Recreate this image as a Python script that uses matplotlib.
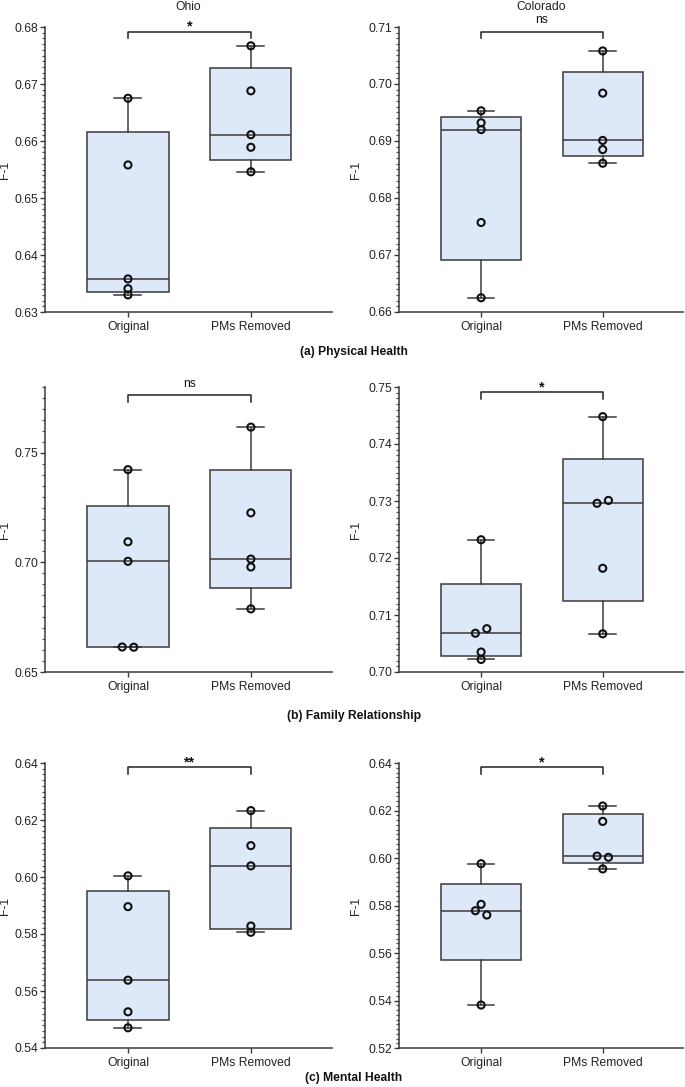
import numpy as np
import matplotlib
matplotlib.use("Agg")
import matplotlib.pyplot as plt
from matplotlib.ticker import MultipleLocator, FormatStrFormatter
import matplotlib.transforms as mtrans

plt.rcParams['font.family'] = ['Liberation Sans', 'DejaVu Sans']

# categories
groups = ["Original", "PMs Removed"]
states = ["Ohio", "Colorado"]
captions = ["(a) Physical Health", "(b) Family Relationship", "(c) Mental Health"]

# F-1 values (5 runs each)
phys_ohio_orig = [0.6675, 0.6558, 0.6358, 0.6341, 0.6330]
phys_ohio_pms = [0.6767, 0.6688, 0.6611, 0.6589, 0.6546]
phys_col_orig = [0.6953, 0.6932, 0.6920, 0.6757, 0.6625]
phys_col_pms = [0.7058, 0.6984, 0.6901, 0.6885, 0.6861]

fam_ohio_orig = [0.7423, 0.7094, 0.7005, 0.6614, 0.6613]
fam_ohio_pms = [0.7617, 0.7226, 0.7015, 0.6979, 0.6788]
fam_col_orig = [0.7232, 0.7076, 0.7068, 0.7035, 0.7022]
fam_col_pms = [0.7448, 0.7301, 0.7296, 0.7182, 0.7067]

ment_ohio_orig = [0.6004, 0.5896, 0.5638, 0.5527, 0.5471]
ment_ohio_pms = [0.6233, 0.6110, 0.6039, 0.5828, 0.5806]
ment_col_orig = [0.5976, 0.5805, 0.5778, 0.5760, 0.5381]
ment_col_pms = [0.6219, 0.6154, 0.6008, 0.6003, 0.5954]

# significance marks
phys_sig = ["*", "ns"]
fam_sig = ["ns", "*"]
ment_sig = ["**", "*"]

# y axis ranges / ticks (ymin, ymax, major, minor)
phys_axes = [(0.63, 0.68, 0.01, 0.001), (0.66, 0.71, 0.01, 0.001)]
fam_axes = [(0.65, 0.78, 0.05, 0.005), (0.70, 0.75, 0.01, 0.001)]
ment_axes = [(0.54, 0.64, 0.02, 0.002), (0.52, 0.64, 0.02, 0.002)]

# --- layout / style only below ---
# swarm slots so overlapping dots sit side by side
jitter = {
    (1, 0, 0): [0, 0, 0, -1, 1],
    (1, 1, 0): [0, 1, -1, 0, 0],
    (1, 1, 1): [0, 1, -1, 0, 0],
    (2, 1, 0): [0, 0, -1, 1, 0],
    (2, 1, 1): [0, 0, -1, 1, 0],
}
bracket_y = [[0.984, 0.984], [0.972, 0.981], [0.986, 0.986]]
sig_off = {"*": 0.5, "**": 0.5, "ns": 6.0}

FACE = "#dde8f8"
EDGE = "#3a3a3a"
FS = 8.7

rows = [
    (phys_ohio_orig, phys_ohio_pms, phys_col_orig, phys_col_pms, phys_sig, phys_axes),
    (fam_ohio_orig, fam_ohio_pms, fam_col_orig, fam_col_pms, fam_sig, fam_axes),
    (ment_ohio_orig, ment_ohio_pms, ment_col_orig, ment_col_pms, ment_sig, ment_axes),
]

W, H = 685, 1087
fig = plt.figure(figsize=(W / 100, H / 100), dpi=100)

col_left = [45, 399]
col_width = [287, 284]
row_top = [27, 387, 763]
ax_h = 285

for r, (o1, p1, o2, p2, sig, yax) in enumerate(rows):
    sets = [(o1, p1), (o2, p2)]
    for c in range(2):
        ax = fig.add_axes([col_left[c] / W, 1 - (row_top[r] + ax_h) / H,
                           col_width[c] / W, ax_h / H])
        data = sets[c]
        stats = []
        for vals in data:
            q1, med, q3 = np.percentile(vals, [25, 50, 75], method='weibull')
            stats.append(dict(med=med, q1=q1, q3=q3, whislo=min(vals),
                              whishi=max(vals), fliers=[]))
        ax.bxp(stats, positions=[0, 1], widths=0.66, capwidths=0.22,
               patch_artist=True, showfliers=False, manage_ticks=False,
               boxprops=dict(facecolor=FACE, edgecolor=EDGE, linewidth=1.1),
               medianprops=dict(color=EDGE, linewidth=1.1),
               whiskerprops=dict(color=EDGE, linewidth=1.1),
               capprops=dict(color=EDGE, linewidth=1.1))
        for g, vals in enumerate(data):
            jit = jitter.get((r, c, g), [0] * len(vals))
            xs = [g + j * 0.047 for j in jit]
            ax.scatter(xs, vals, s=26, facecolors='none', edgecolors='#111111',
                       linewidths=1.5, zorder=3)

        ymin, ymax, maj, mnr = yax[c]
        ax.set_ylim(ymin, ymax)
        ax.set_xlim(-0.675, 1.66)
        ax.yaxis.set_major_locator(MultipleLocator(maj))
        ax.yaxis.set_minor_locator(MultipleLocator(mnr))
        ax.yaxis.set_major_formatter(FormatStrFormatter('%.2f'))
        ax.set_xticks([0, 1])
        ax.set_xticklabels(groups)

        for s in ['top', 'right']:
            ax.spines[s].set_visible(False)
        for s in ['left', 'bottom']:
            ax.spines[s].set_color(EDGE)
            ax.spines[s].set_linewidth(1.1)
        ax.tick_params(axis='y', which='major', length=3.6, width=1.0, pad=1.2,
                       labelsize=FS, color=EDGE, labelcolor='#222222')
        ax.tick_params(axis='y', which='minor', left=True, length=2.2, width=0.9,
                       color='#555555')
        ax.tick_params(axis='x', which='major', length=3.6, width=1.0, pad=3,
                       labelsize=FS, color=EDGE, labelcolor='#222222')

        ax.set_ylabel("F-1", fontsize=FS, color='#222222')
        ax.yaxis.set_label_coords(-0.12 if c == 0 else -0.13, 0.5)

        # significance bracket
        tr = mtrans.blended_transform_factory(ax.transData, ax.transAxes)
        by = bracket_y[r][c]
        ax.plot([0, 0, 1, 1], [by - 0.024, by, by, by - 0.024], color='#222222',
                lw=1.1, transform=tr, clip_on=False)
        star = sig[c] != "ns"
        ax.annotate(sig[c], xy=(0.5, by), xycoords=tr, xytext=(0, sig_off[sig[c]]),
                    textcoords='offset points', ha='center', va='baseline',
                    fontsize=FS + (1.5 if star else 0),
                    fontweight='bold' if star else 'normal', color='#111111')

        if r == 0:
            ax.set_title(states[c], fontsize=FS, pad=12, color='#222222')

cap_y = [352, 716, 1078]
for r in range(3):
    fig.text(354 / W, 1 - cap_y[r] / H, captions[r], ha='center', va='center',
             fontsize=FS, fontweight='bold', color='#111111')

fig.savefig("out.png", dpi=100)
